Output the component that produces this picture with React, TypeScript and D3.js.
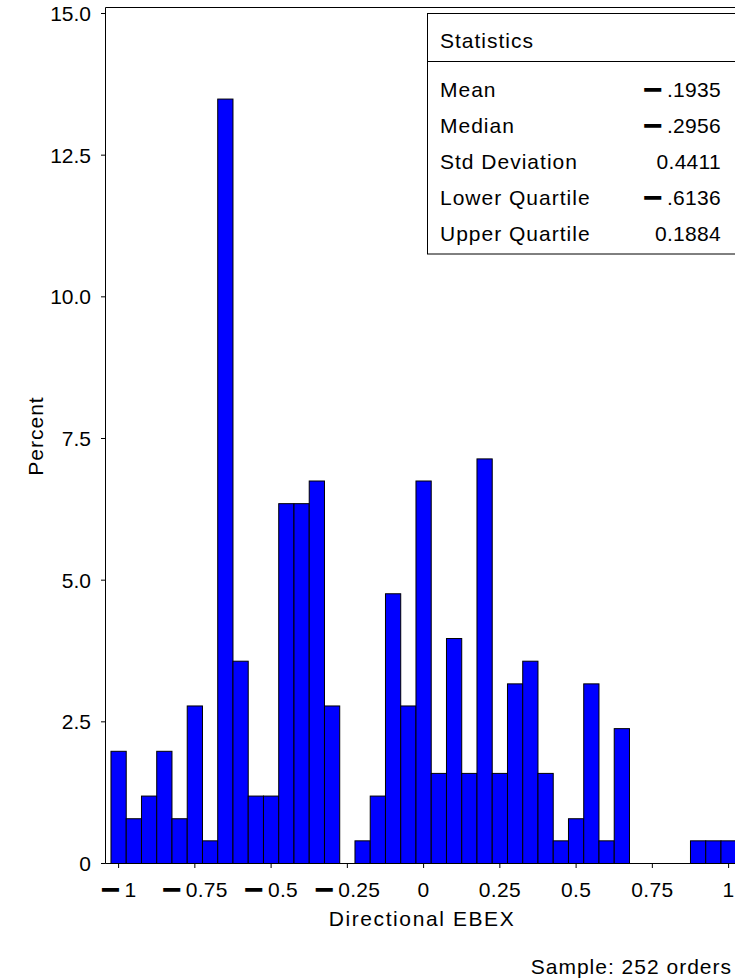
import React from 'react';
import * as d3 from 'd3';

// Histogram bins (midpoints) and percent of orders in each bin
const binMidpoints = [
  -1.0, -0.95, -0.9, -0.85, -0.8, -0.75, -0.7, -0.65, -0.6, -0.55, -0.5,
  -0.45, -0.4, -0.35, -0.3, -0.25, -0.2, -0.15, -0.1, -0.05, 0.0,
  0.05, 0.1, 0.15, 0.2, 0.25, 0.3, 0.35, 0.4, 0.45, 0.5,
  0.55, 0.6, 0.65, 0.7, 0.75, 0.8, 0.85, 0.9, 0.95, 1.0,
];
const percents = [
  1.98, 0.79, 1.19, 1.98, 0.79, 2.78, 0.4, 13.49, 3.57, 1.19, 1.19,
  6.35, 6.35, 6.75, 2.78, 0, 0.4, 1.19, 4.76, 2.78, 6.75,
  1.59, 3.97, 1.59, 7.14, 1.59, 3.17, 3.57, 1.59, 0.4, 0.79,
  3.17, 0.4, 2.38, 0, 0, 0, 0, 0.4, 0.4, 0.4,
];
const binWidth = 0.05;

const yTicks = [0, 2.5, 5, 7.5, 10, 12.5, 15];
const yTickLabels = ['0', '2.5', '5.0', '7.5', '10.0', '12.5', '15.0'];
const xTicks = [-1, -0.75, -0.5, -0.25, 0, 0.25, 0.5, 0.75, 1];
const xTickLabels = ['−1', '−0.75', '−0.5', '−0.25', '0', '0.25', '0.5', '0.75', '1'];

const statNames = ['Mean', 'Median', 'Std Deviation', 'Lower Quartile', 'Upper Quartile'];
const statValues = ['−.1935', '−.2956', '0.4411', '−.6136', '0.1884'];

const W = 735;
const H = 979;
const FONT = '"Liberation Sans", Arial, Helvetica, sans-serif';

function signed(s: string) {
  if (s.startsWith('−')) {
    return [
      <tspan key="m" fontWeight="bold" fontSize={34} dy={4} letterSpacing={0}>
        −
      </tspan>,
      <tspan key="r" dx={4} dy={-4}>{s.slice(1)}</tspan>,
    ];
  }
  return s;
}

export default function App() {
  const x = d3.scaleLinear().domain([-1, 1]).range([118.6, 728.6]);
  const y = d3.scaleLinear().domain([0, 15]).range([863.5, 13.5]);
  const axisX = 105.5;
  const frameTop = 7.5;
  const frameRight = 760;
  const base = y(0);

  return (
    <svg
      width={W}
      height={H}
      style={{ position: 'absolute', left: 0, top: 0, background: '#fff' }}
      fontFamily={FONT}
      fontSize={21}
      letterSpacing={1}
    >
      <rect x={0} y={0} width={W} height={H} fill="#fff" />
      {/* bars */}
      {percents.map((p, i) =>
        p > 0 ? (
          <rect
            key={i}
            x={x(binMidpoints[i] - binWidth / 2)}
            y={y(p)}
            width={x(binMidpoints[i] + binWidth / 2) - x(binMidpoints[i] - binWidth / 2)}
            height={base - y(p)}
            fill="#0000FF"
            stroke="#000"
            strokeWidth={1}
          />
        ) : null
      )}
      {/* frame */}
      <line x1={axisX} x2={axisX} y1={frameTop} y2={base} stroke="#000" />
      <line x1={axisX} x2={frameRight} y1={frameTop} y2={frameTop} stroke="#000" />
      <line x1={axisX} x2={frameRight} y1={base} y2={base} stroke="#000" />
      {/* y ticks */}
      {yTicks.map((t, i) => (
        <g key={t}>
          <line x1={axisX - 4.5} x2={axisX} y1={y(t)} y2={y(t)} stroke="#000" />
          <text x={91} y={y(t)} dy="0.36em" textAnchor="end" letterSpacing={0}>
            {yTickLabels[i]}
          </text>
        </g>
      ))}
      <text transform={`translate(43,436) rotate(-90)`} textAnchor="middle">
        Percent
      </text>
      {/* x ticks */}
      {xTicks.map((t, i) => (
        <g key={t}>
          <line x1={x(t)} x2={x(t)} y1={base} y2={base + 4.5} stroke="#000" />
          <text x={x(t)} y={897} textAnchor="middle" letterSpacing={0.3}>
            {signed(xTickLabels[i])}
          </text>
        </g>
      ))}
      <text x={422} y={926} textAnchor="middle" letterSpacing={1.6}>
        Directional EBEX
      </text>
      <text x={732} y={974} textAnchor="end">
        Sample: 252 orders
      </text>
      {/* statistics box */}
      <rect x={427.5} y={13.5} width={400} height={240.5} fill="#fff" stroke="#000" />
      <line x1={427.5} x2={frameRight} y1={61.5} y2={61.5} stroke="#000" />
      <text x={440} y={48}>Statistics</text>
      {statNames.map((n, i) => (
        <g key={n}>
          <text x={440} y={97 + i * 36}>{n}</text>
          <text x={721} y={97 + i * 36} textAnchor="end" letterSpacing={0.3}>
            {signed(statValues[i])}
          </text>
        </g>
      ))}
    </svg>
  );
}
